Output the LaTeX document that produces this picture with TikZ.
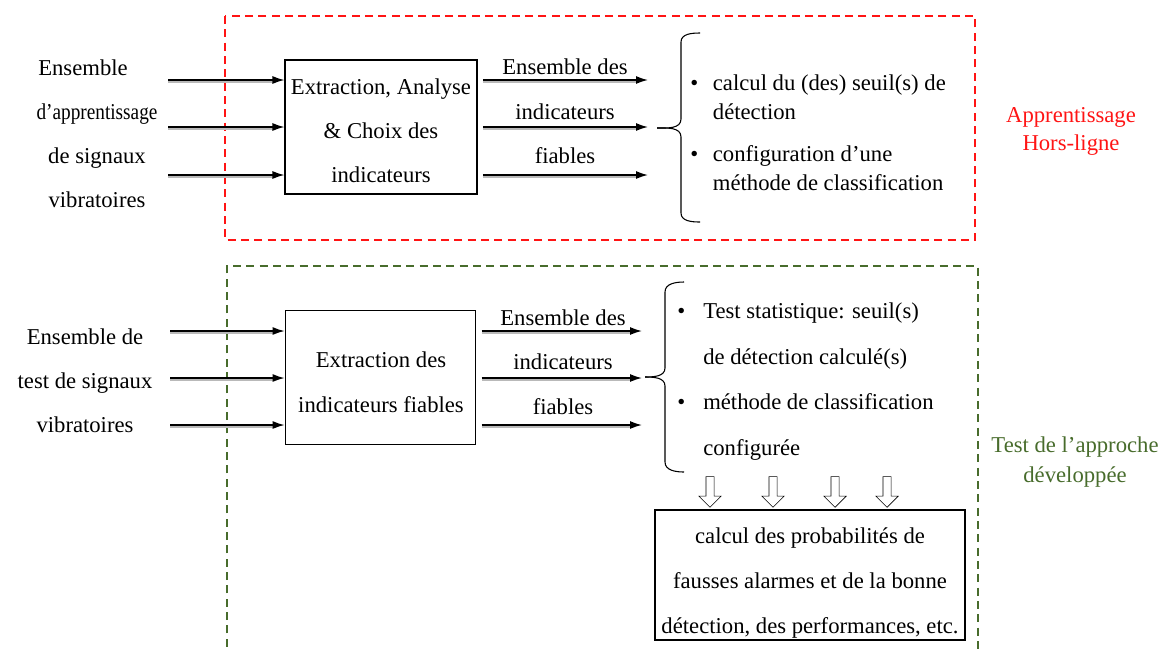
\documentclass[tikz,border=0pt]{standalone}
\usepackage{fontspec}
\setmainfont{Liberation Serif}
\usetikzlibrary{arrows.meta,shapes.arrows}

\definecolor{offred}{RGB}{255,20,20}
\definecolor{testgreen}{RGB}{72,108,44}

\tikzset{
  feed/.style={-{Latex[length=9pt,width=6pt]}, line width=1.1pt,
    preaction={draw=gray!55, line width=1.4pt, arrows=-, shorten >=7pt,
      transform canvas={yshift=-1.3pt}}},
  block/.style={draw, thick, inner sep=0pt},
  txt/.style={align=center, inner sep=0pt},
  item/.style={align=left, inner sep=0pt, anchor=west},
  hollow/.style={draw, fill=white, single arrow, shape border rotate=270,
    minimum width=17pt, minimum height=23pt, single arrow head extend=4pt,
    single arrow tip angle=90, inner sep=2pt},
}
\newcommand{\bulA}{\makebox[17pt][l]{\textbullet}}
\newcommand{\padA}{\makebox[17pt]{}}
\newcommand{\bulB}{\makebox[19.5pt][l]{\textbullet}}
\newcommand{\padB}{\makebox[19.5pt]{}}

\begin{document}
\begin{tikzpicture}[x=0.75pt, y=-0.75pt, every node/.style={font=\fontsize{17}{33}\selectfont}]
\useasboundingbox (0,0) rectangle (1169,651);
\clip (0,0) rectangle (1169,651);

% Phase boxes
\draw[offred, thick, dash pattern=on 6pt off 4pt] (225,16) rectangle (975,240);
\draw[testgreen, thick, dash pattern=on 6pt off 4pt] (227,660) -- (227,266) -- (978,266) -- (978,660);

\node[txt, offred, font=\fontsize{17}{21}\selectfont] (learn) at (1071,131) {Apprentissage\\Hors-ligne};
\node[txt, testgreen, font=\fontsize{17}{22}\selectfont] (test) at (1075,462) {Test de l’approche\\développée};

% Learning phase
\node[txt] (setA) at (97,134) {Ensemble\rule{21pt}{0pt}\\\scalebox{0.85}[1]{d’apprentissage}\\de signaux\\vibratoires};
\node[block, minimum width=144pt, minimum height=100.5pt] (extA) at (381,127) {};
\node[txt] (extAtxt) at (381,131) {Extraction, Analyse\\\& Choix des\\indicateurs};

\foreach \i/\y in {1/80, 2/127, 3/175} {
  \coordinate (inA\i) at (168,\y);
  \draw[feed] (inA\i) -- (extA.west |- inA\i);
  \coordinate (outA\i) at (extA.east |- inA\i);
  \coordinate (endA\i) at (648,\y);
  \draw[feed] ([xshift=4pt]outA\i) -- (endA\i);
}
\node[txt] (indA1) at (565,67) {Ensemble des};
\node[txt] (indA2) at (565,112) {indicateurs};
\node[txt] (indA3) at (565,156) {fiables};

% brace A
\coordinate (bAtop) at (700,33);
\coordinate (bAbot) at (700,222);
\coordinate (bAtip) at (657,128);
\draw[thick] (bAtop) to[out=180, in=90] (681,42) -- (681,119)
  to[out=-90, in=0] (bAtip);
\draw[thick] (bAbot) to[out=180, in=-90] (681,213) -- (681,137)
  to[out=90, in=0] (bAtip);

\node[item, font=\fontsize{17}{22}\selectfont] (itA1) at (690,97)
  {\bulA calcul du (des) seuil(s) de\\\padA détection};
\node[item, font=\fontsize{17}{22}\selectfont] (itA2) at (690,168)
  {\bulA configuration d’une\\\padA méthode de classification};

% Test phase
\node[txt] (setB) at (85,381) {Ensemble de\\test de signaux\\vibratoires};
\node[block, minimum width=143pt, minimum height=101pt] (extB) at (380.5,377.5) {};
\node[txt, font=\fontsize{17}{34}\selectfont] (extBtxt) at (381,382) {Extraction des\\indicateurs fiables};

\foreach \i/\y in {1/331, 2/378, 3/425} {
  \coordinate (inB\i) at (170,\y);
  \draw[feed] (inB\i) -- (extB.west |- inB\i);
  \coordinate (outB\i) at (extB.east |- inB\i);
  \coordinate (endB\i) at (642,\y);
  \draw[feed] ([xshift=4pt]outB\i) -- (endB\i);
}
\node[txt] (indB1) at (563,318) {Ensemble des};
\node[txt] (indB2) at (563,362) {indicateurs};
\node[txt] (indB3) at (563,407) {fiables};

% brace B
\coordinate (bBtop) at (684,282);
\coordinate (bBbot) at (684,472);
\coordinate (bBtip) at (645,377);
\draw[thick] (bBtop) to[out=180, in=90] (665,292) -- (665,368)
  to[out=-90, in=0] (bBtip);
\draw[thick] (bBbot) to[out=180, in=-90] (665,462) -- (665,386)
  to[out=90, in=0] (bBtip);

\node[item, font=\fontsize{17}{34}\selectfont] (itB1) at (677,336)
  {\bulB Test statistique: seuil(s)\\\padB de détection calculé(s)};
\node[item, font=\fontsize{17}{34}\selectfont] (itB2) at (677,427)
  {\bulB méthode de classification\\\padB configurée};

% Results
\node[block, minimum width=232.5pt, minimum height=97.5pt] (perf) at (810,575) {};
\node[txt, font=\fontsize{17}{34}\selectfont] (perftxt) at (810,583)
  {calcul des probabilités de\\fausses alarmes et de la bonne\\détection, des performances, etc.};

\foreach \x [count=\k] in {710, 773, 835, 887}
  \node[hollow] (dn\k) at (\x,490) {};

\end{tikzpicture}
\end{document}
